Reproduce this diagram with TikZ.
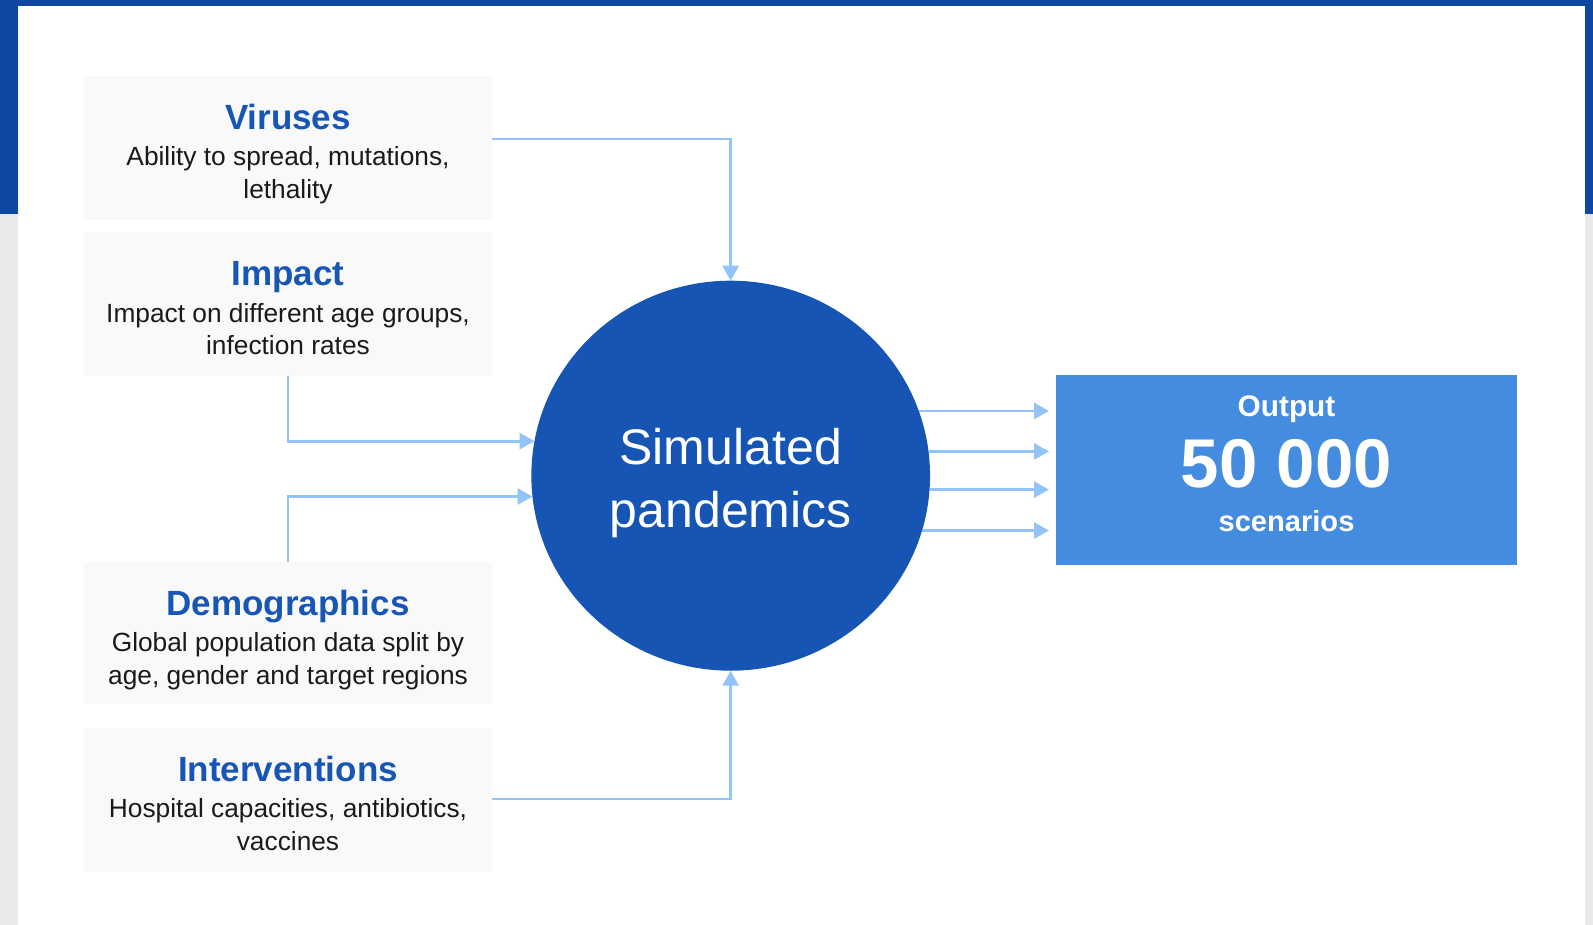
\documentclass[tikz,border=0pt]{standalone}
\usepackage{fontspec}
\setmainfont{Liberation Sans}
\usetikzlibrary{arrows.meta,shapes.geometric}

\definecolor{bandblue}{HTML}{0F48A2}
\definecolor{sidegrey}{HTML}{E9E9E9}
\definecolor{boxgrey}{HTML}{F9F9F9}
\definecolor{titleblue}{HTML}{1756B4}
\definecolor{bodyblack}{HTML}{1A1A1A}
\definecolor{circblue}{HTML}{1655B4}
\definecolor{outblue}{HTML}{438CE0}
\definecolor{linkblue}{HTML}{92C4FA}

\begin{document}
\begin{tikzpicture}[x=1pt,y=-1pt,
  inbox/.style={fill=boxgrey, minimum width=408pt, minimum height=144pt,
    inner sep=0pt, outer sep=0pt},
  ttl/.style={anchor=base, text=titleblue, inner sep=0pt,
    font=\fontsize{35}{40}\selectfont\bfseries},
  txt/.style={anchor=base, text=bodyblack, inner sep=0pt,
    font=\fontsize{26.3}{32}\selectfont},
  bigtxt/.style={anchor=base, text=white, inner sep=0pt,
    font=\fontsize{50}{60}\selectfont},
  outtxt/.style={anchor=base, text=white, inner sep=0pt,
    font=\fontsize{#1}{#1}\selectfont\bfseries},
  link/.style={draw=linkblue, line width=2.9pt,
    -{Triangle[length=15pt,width=16pt]}},
]
\useasboundingbox (0,0) rectangle (1593,925);

% page background: blue header band, grey margins, white sheet
\fill[sidegrey] (0,0) rectangle (1593,925);
\fill[bandblue] (0,0) rectangle (1593,214);
\fill[white] (18,6) rectangle (1585,925);

% input boxes
\node[inbox] (vir) at (288,148) {};
\node[ttl] (vir-t) at (288,129.3) {Viruses};
\node[txt] (vir-1) at (288,165.7) {Ability to spread, mutations,};
\node[txt] (vir-2) at (288,198.5) {lethality};

\node[inbox, minimum height=143pt] (imp) at (288,304) {};
\node[ttl] (imp-t) at (288,285.8) {Impact};
\node[txt] (imp-1) at (288,322.2) {Impact on different age groups,};
\node[txt] (imp-2) at (288,355) {infection rates};

\node[inbox, minimum height=142pt] (dem) at (288,633) {};
\node[ttl] (dem-t) at (288,615.3) {Demographics};
\node[txt] (dem-1) at (288,651.7) {Global population data split by};
\node[txt] (dem-2) at (288,684.5) {age, gender and target regions};

\node[inbox] (int) at (288,800) {};
\node[ttl] (int-t) at (288,781.3) {Interventions};
\node[txt] (int-1) at (288,817.7) {Hospital capacities, antibiotics,};
\node[txt] (int-2) at (288,850.5) {vaccines};

% central simulation
\node[ellipse, fill=circblue, minimum width=398.7pt, minimum height=390pt,
  inner sep=0pt, outer sep=0pt] (circ) at (730.7,475.7) {};
\node[bigtxt] (sim-1) at (730.7,464.3) {Simulated};
\node[bigtxt] (sim-2) at (730.7,527.7) {pandemics};

% output
\node[fill=outblue, minimum width=461pt, minimum height=189.7pt,
  inner sep=0pt, outer sep=0pt] (out) at (1286.5,469.85) {};
\node[outtxt=29.8] (out-t) at (1286.5,416) {Output};
\node[outtxt=69] (out-n) at (1286.5,487.3) {50 000};
\node[outtxt=29.1] (out-s) at (1286.5,531) {scenarios};

% connectors
\draw[link] ([yshift=9pt]vir.east) -| (circ.north);
\draw[link] (imp.south) |- (circ.170);
\draw[link] (dem.north) |- (circ.186);
\draw[link] ([yshift=1pt]int.east) -| (circ.south);
\foreach \a in {19,7,-4,-16}
  \draw[link, shorten >=7pt] (circ.\a) -- (circ.\a -| out.west);
\end{tikzpicture}
\end{document}
